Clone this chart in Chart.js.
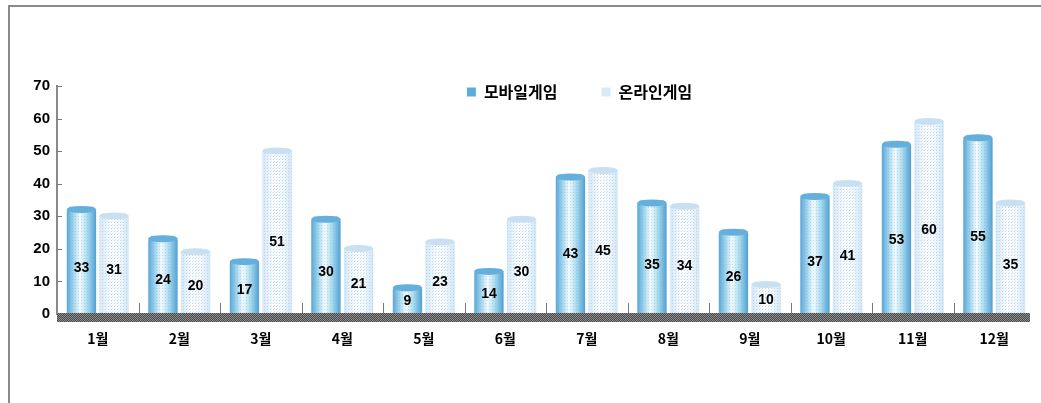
<html>
  <head>
    <script src="https://cdn.jsdelivr.net/npm/chart.js@4/dist/chart.umd.min.js"></script>
    <style>
      html,
      body {
        margin: 0;
        padding: 0;
        background: #fff;
      }
      .frame {
        position: absolute;
        left: 8px;
        top: 5px;
        width: 1033px;
        height: 398px;
        border-top: 2px solid #8a8a8a;
        border-left: 2px solid #8a8a8a;
      }
      #salesChart {
        position: absolute;
        left: 0;
        top: 0;
      }
    </style>
  </head>
  <body>
    <div class="frame"></div>
    <canvas id="salesChart" width="1041" height="403"></canvas>

    <script>
      const months = ["1월", "2월", "3월", "4월", "5월", "6월", "7월", "8월", "9월", "10월", "11월", "12월"];
      const mobileGame = [33, 24, 17, 30, 9, 14, 43, 35, 26, 37, 53, 55];
      const onlineGame = [31, 20, 51, 21, 23, 30, 45, 34, 10, 41, 60, 35];
      const seriesNames = ["모바일게임", "온라인게임"];
      const yMax = 70;
      const yStep = 10;

      const blueStops = [
        [0, "#58a6d6"],
        [0.18, "#8fcbe8"],
        [0.45, "#f4fbfd"],
        [0.7, "#a9dcef"],
        [1, "#4f9fd2"],
      ];
      const lightStops = [
        [0, "#d3e8f6"],
        [0.4, "#ffffff"],
        [0.7, "#f4fafd"],
        [1, "#d0e6f5"],
      ];

      function makePattern(ctx, size, paint) {
        const c = document.createElement("canvas");
        c.width = size;
        c.height = size;
        paint(c.getContext("2d"));
        return ctx.createPattern(c, "repeat");
      }

      // gradients, dots, caps, value labels and the dark base band
      const cylinderPlugin = {
        id: "cylinder",
        beforeDatasetsDraw(chart) {
          const ctx = chart.ctx;
          chart.data.datasets.forEach((ds, di) => {
            chart.getDatasetMeta(di).data.forEach((el) => {
              const g = ctx.createLinearGradient(el.x - el.width / 2, 0, el.x + el.width / 2, 0);
              (di === 0 ? blueStops : lightStops).forEach((s) => g.addColorStop(s[0], s[1]));
              el.options = Object.assign({}, el.options, { backgroundColor: g });
            });
          });
        },
        afterDatasetsDraw(chart) {
          const ctx = chart.ctx;
          const area = chart.chartArea;
          const ys = chart.scales.y;
          const xs = chart.scales.x;
          const dots = makePattern(ctx, 3, (p) => {
            p.fillStyle = "#bcd3ef";
            p.fillRect(0, 0, 1, 1);
            p.fillStyle = "#d9e6f6";
            p.fillRect(1, 2, 1, 1);
          });
          const blueDots = makePattern(ctx, 3, (p) => {
            p.fillStyle = "rgba(120,170,220,0.35)";
            p.fillRect(0, 0, 1, 1);
          });
          ctx.save();
          chart.data.datasets.forEach((ds, di) => {
            chart.getDatasetMeta(di).data.forEach((el) => {
              const x0 = el.x - el.width / 2;
              ctx.fillStyle = di === 0 ? blueDots : dots;
              ctx.fillRect(x0, el.y + 2, el.width, el.base - el.y - 2);
              // top cap
              ctx.fillStyle = di === 0 ? "#64afdc" : "#c9e0f3";
              ctx.beginPath();
              ctx.ellipse(el.x, el.y + 3, el.width / 2, 3.5, 0, 0, Math.PI * 2);
              ctx.fill();
            });
          });
          // value labels
          ctx.fillStyle = "#000";
          ctx.font = "bold 14px 'Liberation Sans', Arial, sans-serif";
          ctx.textAlign = "center";
          ctx.textBaseline = "middle";
          chart.data.datasets.forEach((ds, di) => {
            chart.getDatasetMeta(di).data.forEach((el, i) => {
              const v = ds.data[i];
              ctx.fillText(String(v), el.x, ys.getPixelForValue(v * 0.43));
            });
          });
          // separators between months
          ctx.strokeStyle = "#777";
          ctx.lineWidth = 1;
          for (let i = 1; i < months.length; i++) {
            const x = Math.round((xs.getPixelForValue(i - 1) + xs.getPixelForValue(i)) / 2) + 0.5;
            ctx.beginPath();
            ctx.moveTo(x, area.bottom - 11);
            ctx.lineTo(x, area.bottom);
            ctx.stroke();
          }
          // small y ticks inside
          for (let v = 0; v <= yMax; v += yStep) {
            const y = Math.round(ys.getPixelForValue(v)) + 0.5;
            ctx.beginPath();
            ctx.moveTo(area.left, y);
            ctx.lineTo(area.left + 5, y);
            ctx.stroke();
          }
          // dark base band
          ctx.fillStyle = makePattern(ctx, 2, (p) => {
            p.fillStyle = "#4a4a4a";
            p.fillRect(0, 0, 2, 2);
            p.fillStyle = "#8c8c8c";
            p.fillRect(0, 0, 1, 1);
            p.fillRect(1, 1, 1, 1);
          });
          ctx.fillRect(area.left, area.bottom - 1, area.right - area.left - 5, 9);
          ctx.restore();
        },
        afterLayout(chart) {
          // legend sits inside the plot, right of centre
          const lg = chart.legend;
          if (lg) {
            lg.left += 62;
            lg.right += 62;
            lg.top += 14;
            lg.bottom += 14;
          }
        },
      };

      const ctx = document.getElementById("salesChart").getContext("2d");
      const salesChart = new Chart(ctx, {
        type: "bar",
        data: {
          labels: months,
          datasets: [
            {
              label: seriesNames[0],
              data: mobileGame,
              backgroundColor: "#5aaedb",
              borderWidth: 0,
              borderRadius: { topLeft: 5, topRight: 5 },
              borderSkipped: "bottom",
            },
            {
              label: seriesNames[1],
              data: onlineGame,
              backgroundColor: "#d6ebf7",
              borderWidth: 0,
              borderRadius: { topLeft: 5, topRight: 5 },
              borderSkipped: "bottom",
            },
          ],
        },
        options: {
          responsive: false,
          animation: false,
          layout: { padding: { top: 26, right: 6, left: 0, bottom: 0 } },
          plugins: {
            legend: {
              position: "top",
              maxHeight: 60,
              labels: {
                boxWidth: 9,
                boxHeight: 9,
                padding: 44,
                color: "#000",
                font: { family: "'Noto Sans CJK KR'", weight: "bold", size: 16 },
              },
            },
            tooltip: { enabled: false },
          },
          scales: {
            x: {
              categoryPercentage: 0.75,
              barPercentage: 0.95,
              grid: { display: false, drawTicks: false },
              border: { display: false },
              ticks: {
                padding: 16,
                color: "#000",
                font: { family: "'Noto Sans CJK KR'", weight: "bold", size: 14 },
              },
              afterFit(scale) {
                scale.height = 89;
              },
            },
            y: {
              min: 0,
              max: yMax,
              grid: { display: false, drawTicks: false },
              border: { display: true, color: "#8a8a8a", width: 2 },
              ticks: {
                stepSize: yStep,
                padding: 7,
                color: "#000",
                font: { family: "'Liberation Sans', Arial", weight: "bold", size: 15 },
              },
              afterFit(scale) {
                scale.width = 57;
              },
            },
          },
        },
        plugins: [cylinderPlugin],
      });
    </script>
  </body>
</html>
